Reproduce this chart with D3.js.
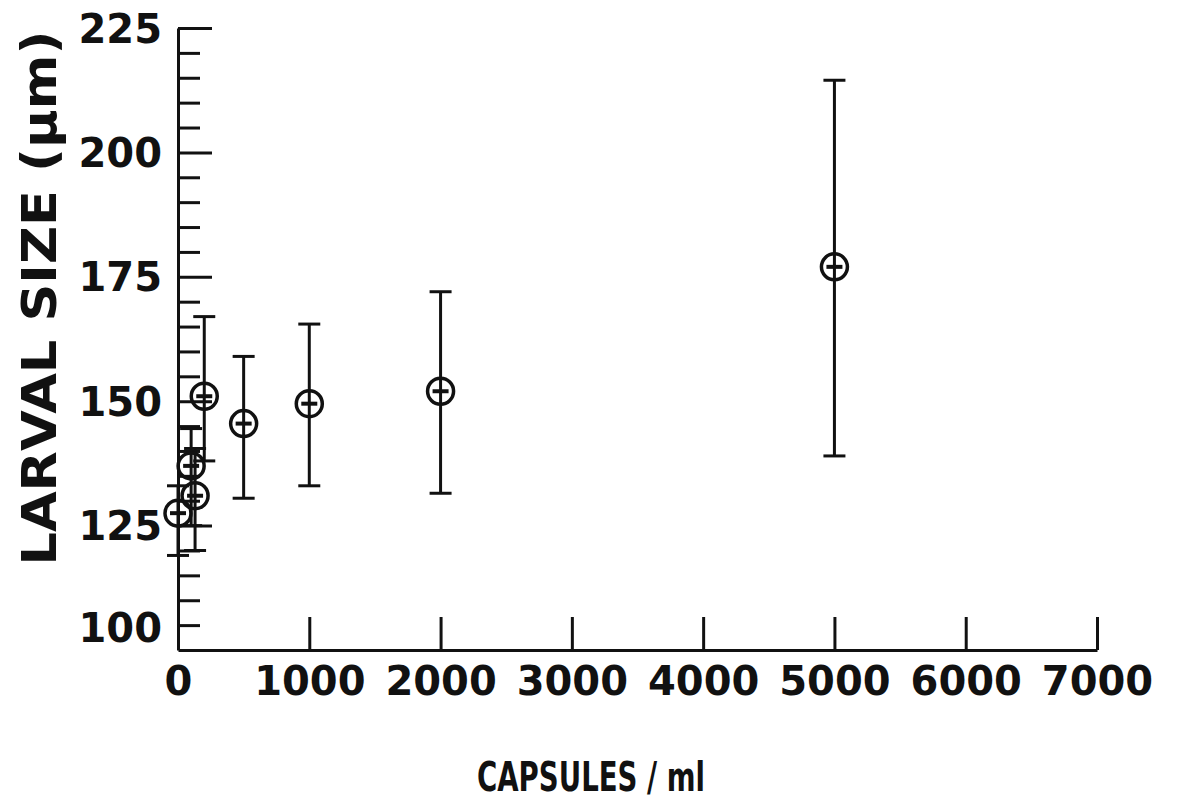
<!DOCTYPE html>
<html>
<head>
<meta charset="utf-8">
<script src="https://cdn.jsdelivr.net/npm/d3@7"></script>
<style>
  html, body { margin: 0; padding: 0; background: #fff; }
  svg { display: block; }
  text { font-family: "DejaVu Sans", sans-serif; font-weight: bold; fill: #111; }
</style>
</head>
<body>
<svg width="1184" height="804"></svg>
<script>
// capsule concentration (per ml) and larval size (um): mean with error bar ends
const capsules = [0, 100, 130, 200, 500, 1000, 2000, 5000];
const meanSize = [127.5, 137, 131, 151, 145.5, 149.5, 152, 177];
const upperSize = [133, 144.5, 140.5, 167, 159, 165.5, 172, 214.5];
const lowerSize = [119, 125, 120, 138, 130.5, 133, 131.5, 139];

const xTicks = [0, 1000, 2000, 3000, 4000, 5000, 6000, 7000];
const yTicks = [100, 125, 150, 175, 200, 225];
const yMinor = d3.range(105, 225, 5).filter(v => v % 25 !== 0);

const svg = d3.select("svg");
const ink = "#111";

const x = d3.scaleLinear([0, 7000], [178, 1097]);
const y = d3.scaleLinear([100, 225], [650, 28]);

// y axis: long ticks at labelled values, short ones every 5
svg.append("g")
  .attr("transform", `translate(${x(0)},0)`)
  .call(d3.axisRight(y).tickValues(yTicks.slice(1)).tickSize(34).tickSizeOuter(0).tickFormat(""))
  .call(g => g.selectAll("path, line").attr("stroke", ink).attr("stroke-width", 3));

svg.append("g")
  .attr("transform", `translate(${x(0)},0)`)
  .call(d3.axisRight(y).tickValues(yMinor).tickSize(22).tickFormat(""))
  .call(g => g.select(".domain").remove())
  .call(g => g.selectAll("line").attr("stroke", ink).attr("stroke-width", 3));

svg.append("g")
  .attr("transform", `translate(${x(0)},0)`)
  .call(d3.axisLeft(y).tickValues(yTicks).tickSize(0).tickPadding(16).tickFormat(d3.format("d")))
  .call(g => g.select(".domain").remove())
  .call(g => g.selectAll("text")
    .attr("font-size", 40)
    .attr("font-family", "DejaVu Sans")
    .attr("font-weight", "bold")
    .attr("fill", ink)
    .attr("dy", d => d === 100 ? "-0.22em" : "0.35em"));

// x axis: ticks point up into the plot
svg.append("g")
  .attr("transform", `translate(0,${y(100)})`)
  .call(d3.axisTop(x).tickValues(xTicks.slice(1)).tickSize(33).tickSizeOuter(0).tickFormat(""))
  .call(g => g.selectAll("path, line").attr("stroke", ink).attr("stroke-width", 3));

svg.append("g")
  .attr("transform", `translate(0,${y(100)})`)
  .call(d3.axisBottom(x).tickValues(xTicks).tickSize(0).tickPadding(17).tickFormat(d3.format("d")))
  .call(g => g.select(".domain").remove())
  .call(g => g.selectAll("text")
    .attr("font-size", 40)
    .attr("font-family", "DejaVu Sans")
    .attr("font-weight", "bold")
    .attr("fill", ink));

// error bars
const pts = capsules.map((c, i) => ({ c, m: meanSize[i], hi: upperSize[i], lo: lowerSize[i] }));
const bars = svg.append("g").attr("stroke", ink).attr("stroke-width", 3);
const capW = 11;

bars.selectAll("line.stem").data(pts).join("line")
  .attr("class", "stem")
  .attr("x1", d => x(d.c)).attr("x2", d => x(d.c))
  .attr("y1", d => y(d.hi)).attr("y2", d => y(d.lo));

bars.selectAll("line.top").data(pts).join("line")
  .attr("class", "top")
  .attr("x1", d => x(d.c) - capW).attr("x2", d => x(d.c) + capW)
  .attr("y1", d => y(d.hi)).attr("y2", d => y(d.hi));

bars.selectAll("line.bot").data(pts).join("line")
  .attr("class", "bot")
  .attr("x1", d => x(d.c) - capW).attr("x2", d => x(d.c) + capW)
  .attr("y1", d => y(d.lo)).attr("y2", d => y(d.lo));

// circled-plus markers
const marks = svg.append("g").selectAll("g").data(pts).join("g")
  .attr("transform", d => `translate(${x(d.c)},${y(d.m)})`);

marks.append("circle")
  .attr("r", 13)
  .attr("fill", "none")
  .attr("stroke", ink)
  .attr("stroke-width", 3.5);

marks.append("line")
  .attr("x1", -8).attr("x2", 8)
  .attr("stroke", ink)
  .attr("stroke-width", 4);

// axis titles
svg.append("text")
  .attr("transform", "translate(56,298) rotate(-90)")
  .attr("text-anchor", "middle")
  .attr("font-size", 48)
  .attr("textLength", 535)
  .attr("lengthAdjust", "spacingAndGlyphs")
  .text("LARVAL SIZE (μm)");

svg.append("text")
  .attr("x", 591)
  .attr("y", 791)
  .attr("text-anchor", "middle")
  .attr("font-size", 40)
  .attr("textLength", 228)
  .attr("lengthAdjust", "spacingAndGlyphs")
  .text("CAPSULES / ml");
</script>
</body>
</html>
